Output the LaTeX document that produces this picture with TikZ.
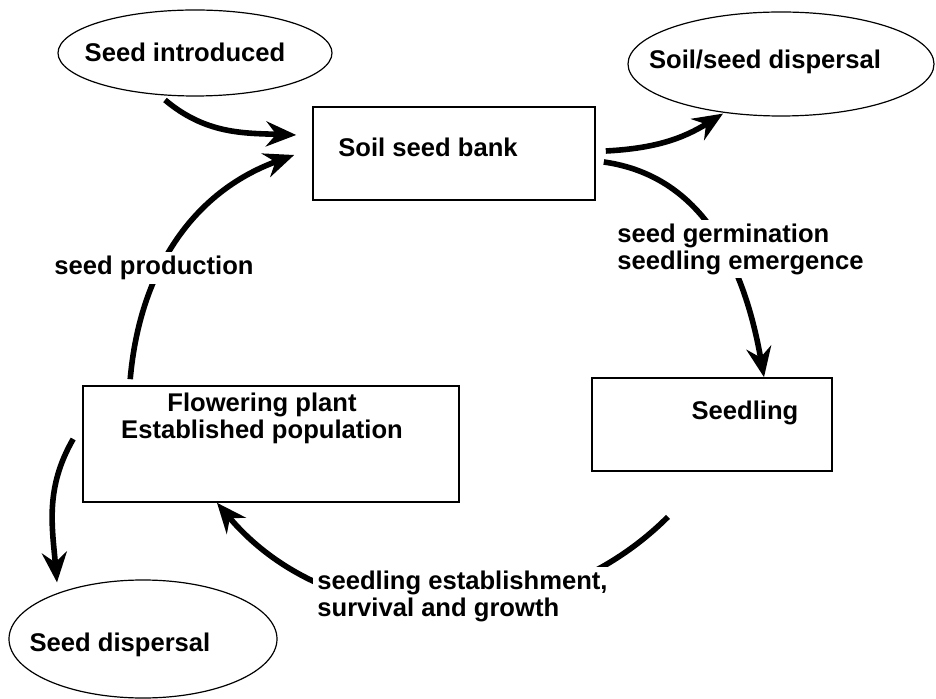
\documentclass[tikz,border=0pt]{standalone}
\usepackage{fontspec}
\setmainfont{Liberation Sans}
\usepackage{tikz}
\usetikzlibrary{arrows.meta}
\usetikzlibrary{shapes.geometric}

\begin{document}
\begin{tikzpicture}[
			     x=0.5pt, y=-0.5pt,
			     font=\fontsize{12.8}{13.5}\selectfont\bfseries,
			     box/.style={draw, line width=0.8pt, rectangle, inner sep=0pt},
			     bubble/.style={draw, line width=0.6pt, ellipse, inner sep=0pt},
			     flow/.style={line width=2.8pt, -{Stealth[length=15pt,width=12.5pt,inset=5pt]}},
			     lbl/.style={fill=white, inner sep=2pt, align=left}
			     ] 
\useasboundingbox (0,0) rectangle (936,699);
% shapes
\node[bubble, minimum width=137pt, minimum height=43pt] (intro) at (195,53) {};
\node[bubble, minimum width=153pt, minimum height=52pt] (sdisp) at (781,64) {};
\node[box, minimum width=141pt, minimum height=46.5pt] (bank) at (454,153.5) {};
\node[box, minimum width=120pt, minimum height=46.5pt] (seedling) at (712,424.5) {};
\node[box, minimum width=188pt, minimum height=58pt] (flower) at (271,444) {};
\node[bubble, minimum width=134pt, minimum height=59pt] (disp) at (143,639) {};
% texts
\node (introtxt) at (185,52) {Seed introduced};
\node (sdisptxt) at (765,62) {Soil/seed dispersal};
\node (banktxt) at (428,147) {Soil seed bank};
\node (seedlingtxt) at (745,413) {Seedling};
\node[align=center] (flowertxt) at (262,418) {Flowering plant\\Established population};
\node (disptxt) at (120,645) {Seed dispersal};
% arrows
\draw[flow] ([shift={(-30,47)}]intro.center) to[out=-40,in=178] ([shift={(-16,-18.5)}]bank.west);
\draw[flow] ([shift={(48,-6)}]flower.north west) to[out=85,in=200] ([shift={(-18,1.5)}]bank.west);
\draw[flow] ([shift={(10,-2.5)}]bank.east) to[out=3,in=212] ([shift={(-58,-3)}]sdisp.south);
\draw[flow] ([shift={(8,8.5)}]bank.east) to[out=-8,in=100] ([shift={(52,0)}]seedling.north);
\draw[flow] ([shift={(-44,45)}]seedling.south) to[out=225,in=-50] ([shift={(-54,0)}]flower.south);
\draw[flow] ([shift={(-9,-5)}]flower.west) to[out=240,in=95] ([shift={(-86,3)}]disp.north);
% labels
\node[lbl] (prod) at (154,268) {seed production};
\node[lbl, anchor=west] (germ) at (613,249) {seed germination\\seedling emergence};
\node[lbl, anchor=west] (estab) at (313,596) {seedling establishment,\\survival and growth};
\end{tikzpicture}
\end{document}
